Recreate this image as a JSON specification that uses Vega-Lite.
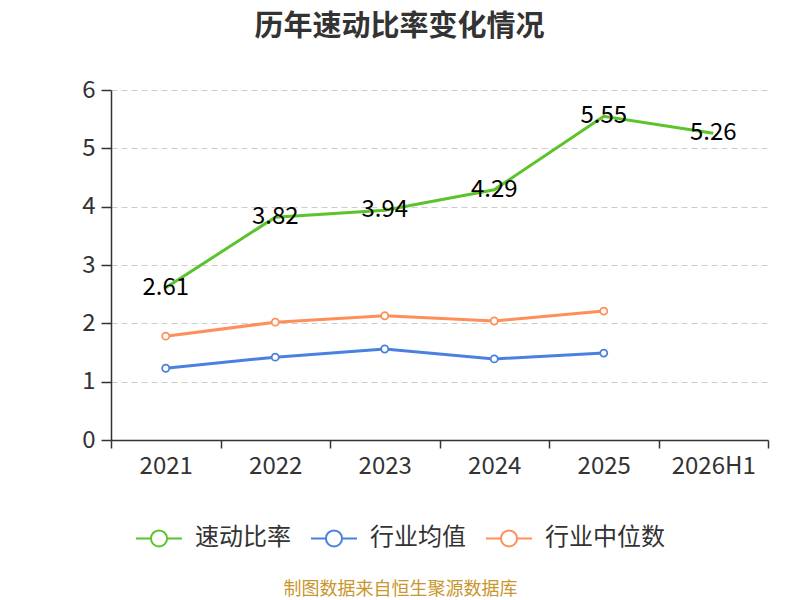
{
  "$schema": "https://vega.github.io/schema/vega-lite/v6.json",
  "width": 657,
  "height": 350,
  "autosize": {"type": "none"},
  "padding": {"left": 111, "top": 90, "right": 32, "bottom": 160},
  "background": "#ffffff",
  "view": {"stroke": null},
  "config": {
    "font": "Noto Sans CJK SC",
    "axis": {"labelFont": "Noto Sans CJK SC", "titleFont": "Noto Sans CJK SC"},
    "legend": {"labelFont": "Noto Sans CJK SC"}
  },
  "title": {
    "text": "历年速动比率变化情况",
    "fontSize": 29,
    "fontWeight": "bold",
    "color": "#333333",
    "anchor": "middle",
    "dx": -40,
    "offset": 36
  },
  "data": {
    "values": [
      {"year": "2021", "series": "速动比率", "value": 2.61},
      {"year": "2022", "series": "速动比率", "value": 3.82},
      {"year": "2023", "series": "速动比率", "value": 3.94},
      {"year": "2024", "series": "速动比率", "value": 4.29},
      {"year": "2025", "series": "速动比率", "value": 5.55},
      {"year": "2026H1", "series": "速动比率", "value": 5.26},
      {"year": "2021", "series": "行业均值", "value": 1.23},
      {"year": "2022", "series": "行业均值", "value": 1.42},
      {"year": "2023", "series": "行业均值", "value": 1.56},
      {"year": "2024", "series": "行业均值", "value": 1.39},
      {"year": "2025", "series": "行业均值", "value": 1.49},
      {"year": "2021", "series": "行业中位数", "value": 1.78},
      {"year": "2022", "series": "行业中位数", "value": 2.02},
      {"year": "2023", "series": "行业中位数", "value": 2.13},
      {"year": "2024", "series": "行业中位数", "value": 2.04},
      {"year": "2025", "series": "行业中位数", "value": 2.21}
    ]
  },
  "encoding": {
    "x": {
      "field": "year",
      "type": "nominal",
      "sort": ["2021", "2022", "2023", "2024", "2025", "2026H1"],
      "scale": {"domain": ["2021", "2022", "2023", "2024", "2025", "2026H1"], "paddingInner": 0, "paddingOuter": 0},
      "axis": {
        "title": "制图数据来自恒生聚源数据库",
        "titleColor": "#c8962e",
        "titleFontSize": 18,
        "titleFontWeight": "normal",
        "titleX": 289,
        "titleY": 149,
        "titleBaseline": "middle",
        "titleAnchor": "middle",
        "labelAngle": 0,
        "labelFontSize": 24,
        "labelColor": "#333333",
        "labelPadding": 6,
        "domainColor": "#333333",
        "domainWidth": 1.5,
        "tickColor": "#333333",
        "tickSize": 8,
        "tickWidth": 1.5,
        "tickBand": "extent",
        "grid": false
      }
    },
    "y": {
      "field": "value",
      "type": "quantitative",
      "scale": {"domain": [0, 6]},
      "axis": {
        "title": null,
        "values": [0, 1, 2, 3, 4, 5, 6],
        "labelFontSize": 24,
        "labelColor": "#333333",
        "labelPadding": 6,
        "domainColor": "#333333",
        "domainWidth": 1.5,
        "tickColor": "#333333",
        "tickSize": 10,
        "tickWidth": 1.5,
        "grid": true,
        "gridColor": "#cccccc",
        "gridDash": [6, 4],
        "gridWidth": 1.2
      }
    }
  },
  "layer": [
    {
      "mark": {"type": "line", "strokeWidth": 3},
      "encoding": {
        "stroke": {
          "field": "series",
          "type": "nominal",
          "scale": {"domain": ["速动比率", "行业均值", "行业中位数"], "range": ["#5bc42a", "#4a80e0", "#ff8f5a"]},
          "legend": {
            "title": null,
            "orient": "none",
            "direction": "horizontal",
            "legendX": 24,
            "legendY": 424,
            "symbolType": "M-1,0L-0.35,0M0.35,0L1,0M-0.35,0A0.35,0.35 0 1,1 0.35,0A0.35,0.35 0 1,1 -0.35,0Z",
            "symbolSize": 2116,
            "symbolStrokeWidth": 2,
            "symbolFillColor": "#ffffff",
            "labelFontSize": 24,
            "labelColor": "#333333",
            "labelOffset": 12,
            "columnPadding": 16
          }
        }
      }
    },
    {
      "transform": [{"filter": "datum.series !== '速动比率'"}],
      "mark": {"type": "point", "shape": "circle", "filled": true, "fill": "#ffffff", "size": 50, "strokeWidth": 1.8, "opacity": 1},
      "encoding": {
        "stroke": {"field": "series", "type": "nominal"}
      }
    },
    {
      "transform": [{"filter": "datum.series === '速动比率'"}],
      "mark": {"type": "text", "fontSize": 24, "color": "#000000", "align": "center", "baseline": "middle"},
      "encoding": {
        "text": {"field": "value", "type": "quantitative", "format": ".2f"}
      }
    }
  ]
}
